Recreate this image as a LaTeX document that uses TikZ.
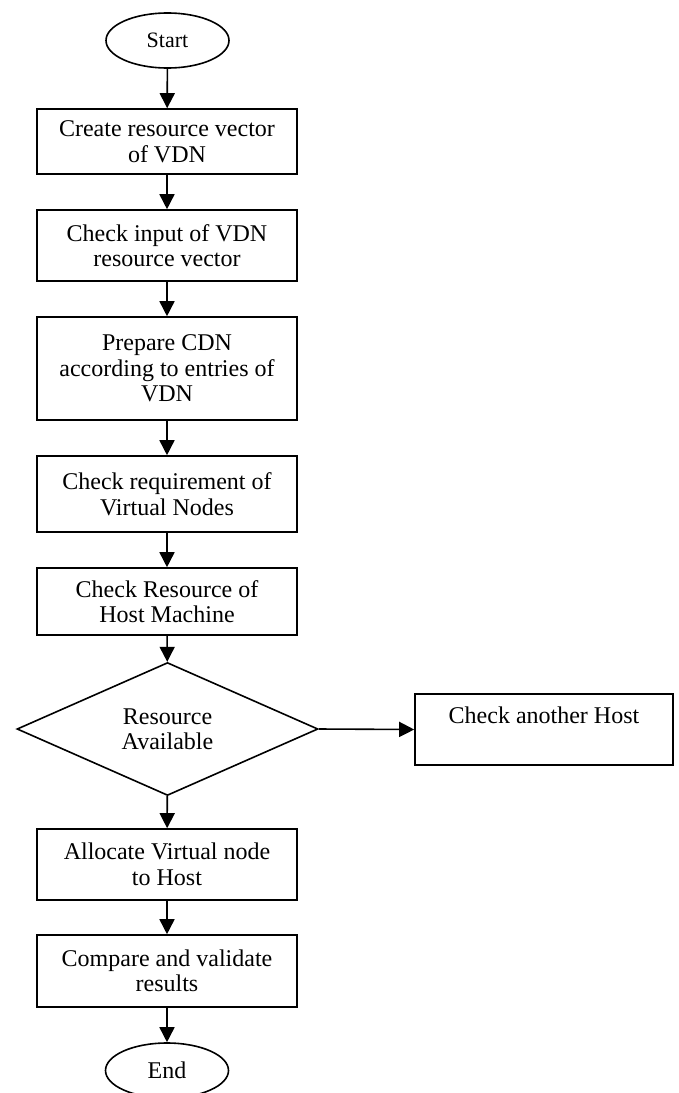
\documentclass[tikz,border=0pt]{standalone}
\usepackage{fontspec}
\setmainfont{Liberation Serif}
\usetikzlibrary{shapes.geometric,arrows.meta}
\begin{document}
\begin{tikzpicture}[x=1pt,y=-1pt,
  every node/.style={font=\fontsize{24}{25.5}\selectfont},
  procbox/.style={draw, line width=1.6pt, minimum width=260pt, align=center, inner sep=0pt},
  term/.style={draw, ellipse, line width=1.6pt, minimum width=123pt, minimum height=55pt, inner sep=0pt},
  decision/.style={draw, diamond, line width=1.6pt, minimum width=301pt, minimum height=118pt, inner sep=0pt, align=center},
  flow/.style={line width=1.6pt, -{Triangle[length=15pt,width=15pt]}}
]
% page frame
\fill[white] (0,0) rectangle (678,1093);
\useasboundingbox (0,0) rectangle (678,1093);

% terminals, steps and the decision
\node[term] (start) at (167.5,40.5) {\fontsize{22}{24}\selectfont Start};
\node[procbox, minimum height=65pt] (create) at (167,141.5) {Create resource vector\\of VDN};
\node[procbox, minimum height=71pt] (input) at (167,245.5) {Check input of VDN\\resource vector};
\node[procbox, minimum height=103pt] (prepare) at (167,368.5) {Prepare CDN\\according to entries of\\VDN};
\node[procbox, minimum height=76pt] (require) at (167,494) {Check requirement of\\Virtual Nodes};
\node[procbox, minimum height=67pt] (hostres) at (167,601.5) {Check Resource of\\Host Machine};
\node[decision] (avail) at (167.5,729) {Resource\\Available};
\node[draw, line width=1.6pt, minimum width=258pt, minimum height=71pt, inner sep=0pt] (other) at (544,729.5) {};
\node[anchor=base] (othertxt) at (544,723) {Check another Host};
\node[procbox, minimum height=71pt] (allocate) at (167,864.5) {Allocate Virtual node\\to Host};
\node[procbox, minimum height=72pt] (compare) at (167,971) {Compare and validate\\results};
\node[term] (end) at (167,1070.5) {End};

% connectors
\draw[flow] (start) -- (create);
\draw[flow] (create) -- (input);
\draw[flow] (input) -- (prepare);
\draw[flow] (prepare) -- (require);
\draw[flow] (require) -- (hostres);
\draw[flow] (hostres) -- (avail);
\draw[flow] (avail.east) -- (other.west);
\draw[flow] (avail) -- (allocate);
\draw[flow] (allocate) -- (compare);
\draw[flow] (compare) -- (end);
\end{tikzpicture}
\end{document}
